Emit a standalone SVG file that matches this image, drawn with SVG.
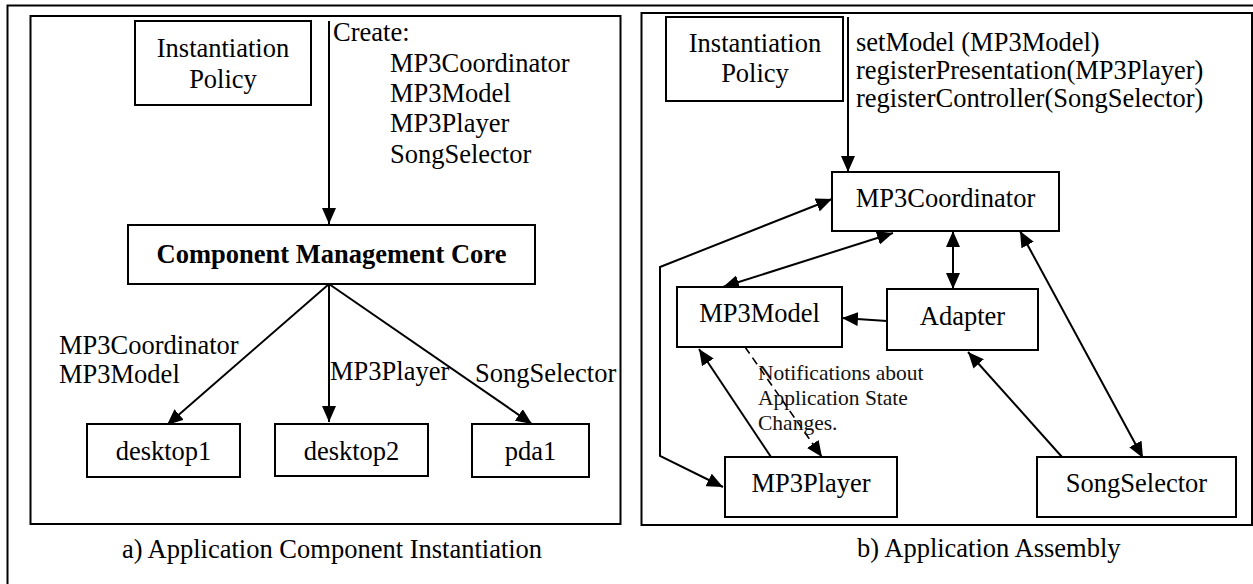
<svg xmlns="http://www.w3.org/2000/svg" width="1253" height="584" viewBox="0 0 1253 584">
  <style>
    .frame { fill: none; stroke: #000; stroke-width: 2; }
    .box { fill: #fff; stroke: #000; stroke-width: 2; }
    .lbl { font-family: "Liberation Serif", "Times New Roman", serif; font-size: 26.5px; fill: #000; }
    .mid { text-anchor: middle; }
    .bold { font-weight: bold; }
    .note { font-family: "Liberation Serif", "Times New Roman", serif; font-size: 21.5px; fill: #111; }
    .edge { fill: none; stroke: #000; stroke-width: 2; }
    .dash { fill: none; stroke: #000; stroke-width: 1.6; stroke-dasharray: 8 5; }
  </style>
  <defs>
    <marker id="arrow" markerUnits="userSpaceOnUse" markerWidth="16" markerHeight="14" refX="16" refY="7" orient="auto-start-reverse">
      <path d="M0,0 L16,7 L0,14 z" fill="#000"/>
    </marker>
  </defs>

  <rect width="1253" height="584" fill="#fff"/>

  <!-- outer border (open on the right and bottom) -->
  <path class="frame" d="M7.5,584 V5.5 H1253"/>

  <!-- panel frames -->
  <rect class="frame" x="30.5" y="16" width="590" height="508"/>
  <rect class="frame" x="641.5" y="13" width="610.5" height="512"/>

  <!-- connectors -->
  <g id="connectors">
    <!-- panel a -->
    <path class="edge" d="M329,21 V224" marker-end="url(#arrow)"/>
    <path class="edge" d="M329,284 L167,425" marker-end="url(#arrow)"/>
    <path class="edge" d="M329,284 V422" marker-end="url(#arrow)"/>
    <path class="edge" d="M329,284 L532,424" marker-end="url(#arrow)"/>
    <!-- panel b -->
    <path class="edge" d="M848,17 V172" marker-end="url(#arrow)"/>
    <path class="edge" d="M953,231 V289" marker-start="url(#arrow)" marker-end="url(#arrow)"/>
    <path class="edge" d="M887,321 L842,318" marker-end="url(#arrow)"/>
    <path class="edge" d="M893,233 L723,287" marker-start="url(#arrow)" marker-end="url(#arrow)"/>
    <path class="edge" d="M832,199 L660,267 L660,456 L723,487" marker-start="url(#arrow)" marker-end="url(#arrow)"/>
    <path class="edge" d="M771,457 L699,349" marker-end="url(#arrow)"/>
    <path class="dash" d="M745,347 L822,457" marker-end="url(#arrow)"/>
    <path class="edge" d="M1062,457 L968,352" marker-end="url(#arrow)"/>
    <path class="edge" d="M1020,231 L1143,458" marker-start="url(#arrow)" marker-end="url(#arrow)"/>
  </g>

  <!-- panel a: component instantiation -->
  <g id="a-policy">
    <rect class="box" x="135" y="21" width="176" height="84"/>
    <text class="lbl mid" x="223" y="57">Instantiation</text>
    <text class="lbl mid" x="223" y="88">Policy</text>
  </g>
  <g id="a-create-label">
    <text class="lbl" x="333" y="41">Create:</text>
    <text class="lbl" x="390" y="72">MP3Coordinator</text>
    <text class="lbl" x="390" y="102">MP3Model</text>
    <text class="lbl" x="390" y="132">MP3Player</text>
    <text class="lbl" x="390" y="163">SongSelector</text>
  </g>
  <g id="a-core">
    <rect class="box" x="128" y="225" width="407" height="59"/>
    <text class="lbl mid bold" x="331.5" y="263">Component Management Core</text>
  </g>
  <g id="a-edge-labels">
    <text class="lbl" x="59" y="354">MP3Coordinator</text>
    <text class="lbl" x="59" y="383">MP3Model</text>
    <text class="lbl" x="330" y="380">MP3Player</text>
    <text class="lbl" x="475" y="382">SongSelector</text>
  </g>
  <g id="a-desktop1">
    <rect class="box" x="87" y="424" width="153" height="53"/>
    <text class="lbl mid" x="163.5" y="460">desktop1</text>
  </g>
  <g id="a-desktop2">
    <rect class="box" x="275" y="424" width="153" height="52"/>
    <text class="lbl mid" x="351.5" y="460">desktop2</text>
  </g>
  <g id="a-pda1">
    <rect class="box" x="472" y="424" width="117" height="53"/>
    <text class="lbl mid" x="530.5" y="460">pda1</text>
  </g>
  <text class="lbl mid" x="332" y="558">a) Application Component Instantiation</text>

  <!-- panel b: application assembly -->
  <g id="b-policy">
    <rect class="box" x="666" y="17" width="177" height="84"/>
    <text class="lbl mid" x="755" y="52">Instantiation</text>
    <text class="lbl mid" x="755" y="82">Policy</text>
  </g>
  <g id="b-calls">
    <text class="lbl" x="856" y="51">setModel (MP3Model)</text>
    <text class="lbl" x="856" y="79">registerPresentation(MP3Player)</text>
    <text class="lbl" x="856" y="107">registerController(SongSelector)</text>
  </g>
  <g id="b-coordinator">
    <rect class="box" x="832" y="172" width="227" height="59"/>
    <text class="lbl mid" x="945.5" y="207">MP3Coordinator</text>
  </g>
  <g id="b-model">
    <rect class="box" x="677" y="287" width="165" height="60"/>
    <text class="lbl mid" x="759.5" y="322">MP3Model</text>
  </g>
  <g id="b-adapter">
    <rect class="box" x="887" y="289" width="151" height="61"/>
    <text class="lbl mid" x="962.5" y="325">Adapter</text>
  </g>
  <g id="b-notification">
    <text class="note" x="758" y="380">Notifications about</text>
    <text class="note" x="758" y="405">Application State</text>
    <text class="note" x="758" y="430">Changes.</text>
  </g>
  <g id="b-player">
    <rect class="box" x="725" y="457" width="172" height="60"/>
    <text class="lbl mid" x="811" y="492">MP3Player</text>
  </g>
  <g id="b-selector">
    <rect class="box" x="1037" y="457" width="199" height="60"/>
    <text class="lbl mid" x="1136.5" y="492">SongSelector</text>
  </g>
  <text class="lbl" x="857" y="557">b) Application Assembly</text>
</svg>
